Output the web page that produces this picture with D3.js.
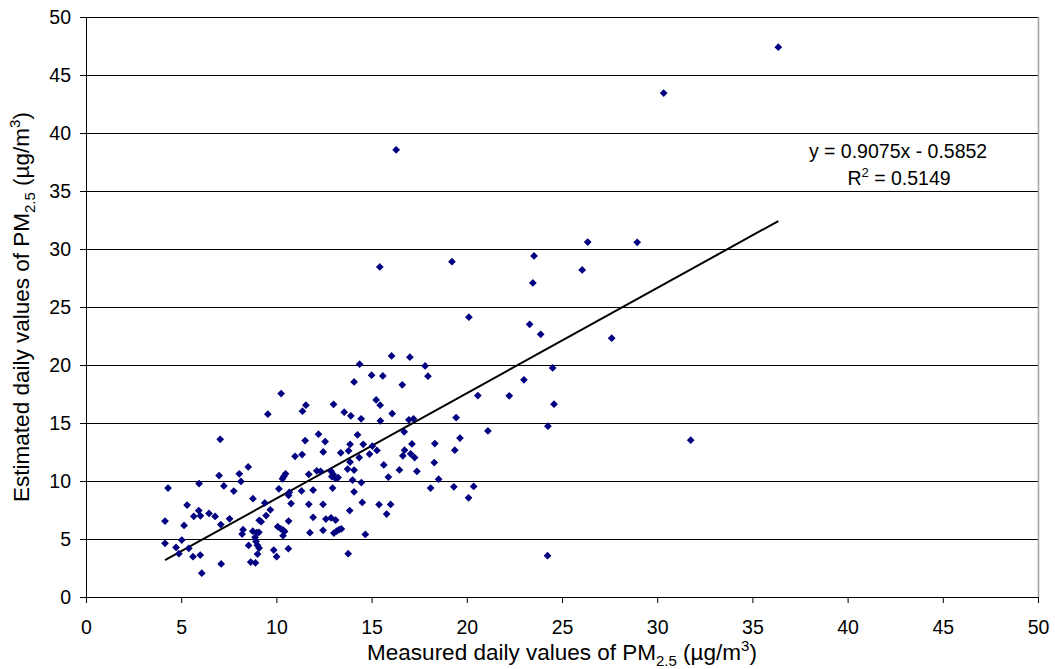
<!DOCTYPE html>
<html>
<head>
<meta charset="utf-8">
<script src="https://cdn.jsdelivr.net/npm/d3@7"></script>
<style>
  body { margin: 0; background: #fff; }
  svg text { font-family: "Liberation Sans", Arial, sans-serif; fill: #000; }
</style>
</head>
<body>
<svg id="chart" width="1055" height="669"></svg>
<script>
// measured PM2.5 (x) vs estimated PM2.5 (y)
var measured = [
  36.36, 30.34, 16.29, 15.43, 19.22, 26.35, 28.95, 23.53, 23.47, 26.06, 27.61, 31.76, 24.24,
  20.11, 23.30, 23.88, 24.51, 24.58, 24.26, 23.00, 22.23, 20.58, 21.11, 19.44, 19.64, 19.37, 18.52, 18.10, 19.32, 20.36, 20.09, 13.77,
  14.37, 16.05, 17.01, 17.81, 17.96, 14.08, 15.00, 15.59, 16.61, 15.24, 15.45, 13.00, 11.55, 11.37, 13.56, 13.91, 14.45, 15.46,
  16.08, 16.96, 17.20, 16.71, 14.26, 12.21, 11.51, 12.56, 13.87, 14.56, 15.04, 13.79, 15.28, 14.89, 14.35, 13.38, 12.46, 11.35,
  10.98, 17.12, 16.73, 16.64, 17.05, 17.26, 18.32, 18.29, 17.38, 16.46, 15.88, 15.64, 13.87, 14.08, 13.74, 14.00, 14.46, 14.08,
  14.51, 13.85, 15.39, 16.00, 15.79, 14.67,
  10.25, 9.55, 7.05, 8.52, 8.05, 6.99, 8.14, 10.48, 10.39, 10.32, 11.70, 12.12, 12.32, 12.87, 12.98, 12.91, 13.10, 13.24,
  4.31, 5.94, 7.24, 7.76, 8.77, 10.13, 10.68, 10.64, 11.32, 11.93, 12.95, 5.31, 5.92, 6.01, 5.66, 6.46, 6.78, 7.54,
  9.39, 9.68, 9.46, 9.10, 9.20, 10.77, 11.70, 12.45, 10.64, 11.93, 12.60, 12.87, 13.11, 4.15, 5.15, 7.08, 8.25, 8.20,
  8.76, 8.97, 9.08, 8.88, 8.93, 9.00, 9.09, 9.01, 10.07, 10.23, 10.35, 10.43, 10.35, 11.76, 12.45, 13.02, 13.16, 13.29,
  13.41, 4.15, 5.03, 4.73, 4.88, 5.40, 5.62, 6.00, 6.08, 7.10, 8.54, 8.65, 8.90, 9.86, 10.01, 10.63
];
var estimated = [
  47.40, 43.44, 38.55, 28.45, 28.91, 30.60, 30.58, 29.40, 27.07, 28.19, 22.31, 13.52, 3.56,
  24.12, 23.51, 22.65, 19.75, 16.62, 14.73, 18.72, 17.34, 17.36, 14.32, 15.47, 13.70, 12.66, 10.16, 9.39, 9.50, 9.53, 8.55, 3.73,
  20.07, 20.78, 20.67, 19.92, 19.04, 18.54, 19.12, 19.06, 18.29, 16.99, 16.54, 16.61, 16.54, 16.02, 15.93, 15.62, 15.36, 15.19,
  15.81, 15.27, 15.36, 14.24, 13.98, 14.04, 13.49, 13.40, 13.16, 13.16, 13.01, 12.60, 12.63, 12.32, 12.02, 12.43, 12.51, 12.28,
  12.13, 13.20, 12.66, 12.17, 12.34, 12.02, 13.23, 11.59, 10.84, 10.95, 10.34, 11.38, 11.63, 10.94, 11.03, 10.08, 9.86, 9.07,
  8.15, 7.45, 7.97, 7.98, 7.15, 5.39,
  17.54, 15.76, 13.59, 11.21, 10.62, 10.47, 9.96, 10.62, 10.39, 10.19, 10.58, 10.88, 10.84, 10.85, 10.58, 10.38, 10.23, 10.30,
  9.39, 9.78, 9.57, 9.13, 8.47, 9.33, 9.03, 8.75, 9.14, 9.22, 9.39, 7.93, 7.45, 7.00, 6.96, 7.20, 6.94, 6.74,
  8.11, 7.52, 7.02, 6.61, 6.49, 8.06, 7.99, 7.99, 6.55, 6.87, 6.72, 6.83, 6.63, 6.55, 6.17, 6.24, 5.80, 5.43,
  5.67, 5.54, 5.58, 5.15, 4.79, 4.46, 4.22, 3.70, 6.06, 5.88, 5.77, 5.65, 5.28, 5.54, 5.75, 5.51, 5.67, 5.80,
  5.87, 4.63, 4.91, 4.27, 3.73, 4.20, 3.47, 3.62, 2.05, 2.85, 4.44, 3.01, 2.95, 4.05, 3.47, 4.16
];
var xTicks = [0, 5, 10, 15, 20, 25, 30, 35, 40, 45, 50];
var yTicks = [0, 5, 10, 15, 20, 25, 30, 35, 40, 45, 50];
var slope = 0.9075, intercept = -0.5852;
var eqText = "y = 0.9075x - 0.5852";
var r2Value = "0.5149";

var W = 1055, H = 669;
var margin = { top: 17, right: 17, bottom: 72, left: 86 };
var pw = W - margin.left - margin.right, ph = H - margin.top - margin.bottom;

var svg = d3.select("#chart");
var g = svg.append("g").attr("transform", "translate(" + margin.left + "," + margin.top + ")");

var x = d3.scaleLinear().domain([0, 50]).range([0, pw]);
var y = d3.scaleLinear().domain([0, 50]).range([ph, 0]);

// horizontal grid
g.append("g")
  .selectAll("line")
  .data(yTicks.filter(function(d){ return d > 0; }))
  .enter().append("line")
  .attr("x1", 0).attr("x2", pw)
  .attr("y1", function(d){ return Math.round(y(d)) + 0.5; })
  .attr("y2", function(d){ return Math.round(y(d)) + 0.5; })
  .attr("stroke", "#000").attr("stroke-width", 1);

// right border
g.append("line")
  .attr("x1", pw + 0.5).attr("x2", pw + 0.5)
  .attr("y1", 0).attr("y2", ph)
  .attr("stroke", "#a0a0a0").attr("stroke-width", 1.5);

var fontSize = 19.5;
var titleSize = 22.5;

var xAxis = g.append("g")
  .attr("transform", "translate(0," + ph + ")")
  .call(d3.axisBottom(x).tickValues(xTicks).tickSize(6).tickPadding(17).tickSizeOuter(0));
var yAxis = g.append("g")
  .call(d3.axisLeft(y).tickValues(yTicks).tickSize(6).tickPadding(9).tickSizeOuter(0));

[xAxis, yAxis].forEach(function(a){
  a.select(".domain").attr("stroke", "#000");
  a.selectAll(".tick line").attr("stroke", "#000");
  a.selectAll(".tick text")
    .style("font-size", fontSize + "px")
    .style("font-family", '"Liberation Sans", Arial, sans-serif')
    .attr("fill", "#000");
});

// trend line
var xMin = d3.min(measured), xMax = d3.max(measured);
var trend = [[xMin, slope * xMin + intercept], [xMax, slope * xMax + intercept]];
g.append("path")
  .datum(trend)
  .attr("d", d3.line().x(function(d){ return x(d[0]); }).y(function(d){ return y(d[1]); }))
  .attr("fill", "none")
  .attr("stroke", "#000")
  .attr("stroke-width", 2);

// points
var diamond = d3.symbol().type(d3.symbolSquare).size(30);
g.append("g")
  .selectAll("path")
  .data(measured.map(function(v, i){ return [v, estimated[i]]; }))
  .enter().append("path")
  .attr("d", diamond)
  .attr("transform", function(d){ return "translate(" + x(d[0]) + "," + y(d[1]) + ") rotate(45)"; })
  .attr("fill", "#000080");

// equation labels
g.append("text")
  .attr("x", x(42.65)).attr("y", y(37.85))
  .attr("text-anchor", "middle")
  .style("font-size", fontSize + "px")
  .text(eqText);

var r2 = g.append("text")
  .attr("x", x(42.7)).attr("y", y(35.5))
  .attr("text-anchor", "middle")
  .style("font-size", fontSize + "px");
r2.append("tspan").text("R");
r2.append("tspan").attr("dy", -8).style("font-size", "13px").text("2");
r2.append("tspan").attr("dy", 8).text(" = " + r2Value);

// axis titles
function title(sel, label) {
  sel.append("tspan").text(label + " daily values of PM");
  sel.append("tspan").attr("dy", 6).style("font-size", "15px").text("2.5");
  sel.append("tspan").attr("dy", -6).text(" (\u00b5g/m");
  sel.append("tspan").attr("dy", -9).style("font-size", "15px").text("3");
  sel.append("tspan").attr("dy", 9).text(")");
}

var xt = svg.append("text")
  .attr("x", margin.left + pw / 2).attr("y", 660)
  .attr("text-anchor", "middle")
  .style("font-size", titleSize + "px");
title(xt, "Measured");

var yt = svg.append("text")
  .attr("transform", "translate(29," + (margin.top + ph / 2) + ") rotate(-90)")
  .attr("text-anchor", "middle")
  .style("font-size", titleSize + "px");
title(yt, "Estimated");
</script>
</body>
</html>
